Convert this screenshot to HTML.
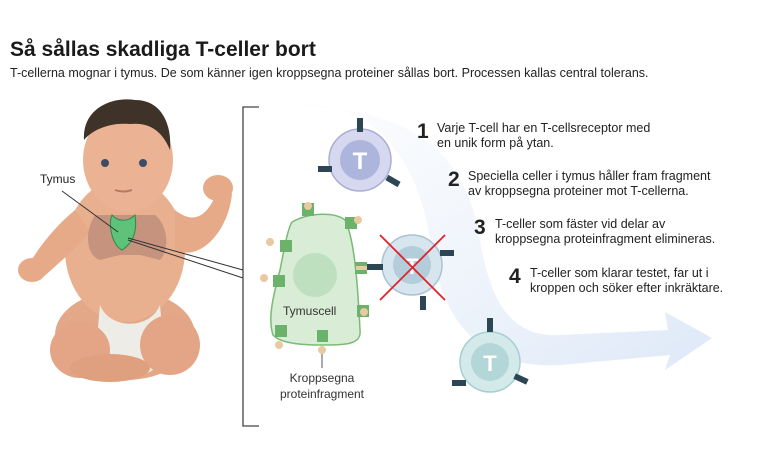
<!DOCTYPE html>
<html><head><meta charset="utf-8"><style>
body{margin:0;background:#fff;width:760px;height:456px;overflow:hidden;font-family:"Liberation Sans",sans-serif}
</style></head><body>
<svg width="760" height="456" viewBox="0 0 760 456" xmlns="http://www.w3.org/2000/svg" font-family="Liberation Sans, sans-serif">
<defs>
<linearGradient id="ag" x1="0" y1="0" x2="1" y2="1">
<stop offset="0" stop-color="#f2f6fc" stop-opacity="0.3"/><stop offset="1" stop-color="#dde8f7"/></linearGradient>
</defs>
<text x="10" y="56" font-size="21" font-weight="bold" fill="#1a1a1a">Så sållas skadliga T-celler bort</text>
<text x="10" y="77" font-size="12.5" fill="#222">T-cellerna mognar i tymus. De som känner igen kroppsegna proteiner sållas bort. Processen kallas central tolerans.</text>

<path d="M300,105 C380,100 420,170 430,240 C440,320 480,370 560,365 L670,355 L665,370 L712,338 L665,312 L668,330 L560,335 C510,338 490,300 480,240 C468,160 420,110 300,105 Z" fill="url(#ag)"/>

<!-- baby -->
<g>
<ellipse cx="125" cy="335" rx="70" ry="45" fill="#e3a888"/>
<ellipse cx="125" cy="250" rx="60" ry="72" fill="#e9b08f"/>
<path d="M75,210 C45,235 32,260 25,270 L40,280 C60,262 80,245 90,232 Z" fill="#e6aa88"/>
<path d="M175,210 C200,230 212,205 218,190 L232,194 C228,232 200,262 175,250 Z" fill="#e6aa88"/>
<ellipse cx="218" cy="188" rx="15" ry="13" fill="#e6aa88"/>
<ellipse cx="32" cy="270" rx="14" ry="12" fill="#e6aa88"/>
<path d="M100,305 C110,330 150,330 160,305 L165,360 C140,385 110,385 95,360 Z" fill="#eeece6"/>
<ellipse cx="80" cy="350" rx="30" ry="28" fill="#e3a585"/>
<ellipse cx="170" cy="345" rx="30" ry="30" fill="#e3a585"/>
<ellipse cx="110" cy="368" rx="40" ry="14" fill="#dfa080"/>
<ellipse cx="128" cy="160" rx="45" ry="52" fill="#ebb393"/>
<path d="M84,140 C82,110 110,96 135,100 C162,100 172,125 170,150 C162,130 148,122 130,124 C110,122 92,130 84,140 Z" fill="#3f3228"/>
<circle cx="105" cy="163" r="4" fill="#3e4a66"/><circle cx="143" cy="163" r="4" fill="#3e4a66"/>
<path d="M115,190 Q123,193 132,190" stroke="#b77a66" stroke-width="2" fill="none"/>
<path d="M95,215 C85,230 85,255 100,260 L120,255 L140,255 L160,260 C170,250 168,225 155,215 Z" fill="#b98a78" opacity="0.75"/>
<path d="M112,215 C108,225 112,245 122,250 C130,245 138,235 135,215 C128,222 118,222 112,215 Z" fill="#5ec27a" stroke="#2f8a49" stroke-width="1"/>
</g>
<text x="40" y="183" font-size="12" fill="#222">Tymus</text>
<line x1="62" y1="191" x2="118" y2="232" stroke="#333" stroke-width="1"/>
<line x1="128" y1="238" x2="243" y2="270" stroke="#333" stroke-width="1"/>
<line x1="128" y1="240" x2="243" y2="278" stroke="#333" stroke-width="1"/>

<path d="M259,107 H243 V426 H259" stroke="#444" stroke-width="1.3" fill="none"/>

<path d="M292,222 C310,212 335,212 345,220 C355,240 358,290 360,330 C362,345 345,345 320,345 C300,345 280,343 273,335 C268,320 272,300 280,270 C285,245 288,228 292,222 Z" fill="#d9ecd6" stroke="#79bb74" stroke-width="1.5"/>
<circle cx="315" cy="275" r="22" fill="#bfe0bf"/>
<text x="283" y="315" font-size="12" fill="#333">Tymuscell</text>
<g fill="#6bb36a">
<rect x="302" y="203" width="12" height="13"/><rect x="345" y="217" width="12" height="12"/>
<rect x="280" y="240" width="12" height="12"/><rect x="273" y="275" width="12" height="12"/>
<rect x="355" y="262" width="12" height="12"/><rect x="357" y="305" width="12" height="12"/>
<rect x="275" y="325" width="12" height="12"/><rect x="317" y="330" width="11" height="12"/>
</g>
<g fill="#e9c9a1">
<circle cx="308" cy="206" r="4"/><circle cx="358" cy="220" r="4"/><circle cx="270" cy="242" r="4"/>
<circle cx="264" cy="278" r="4"/><circle cx="364" cy="312" r="4"/><circle cx="279" cy="345" r="4"/>
<circle cx="322" cy="350" r="4"/><rect x="356" y="266" width="12" height="4"/>
</g>
<line x1="322" y1="354" x2="322" y2="368" stroke="#555" stroke-width="1"/>
<text x="322" y="382" font-size="12" fill="#333" text-anchor="middle">Kroppsegna</text>
<text x="322" y="398" font-size="12" fill="#333" text-anchor="middle">proteinfragment</text>

<circle cx="360" cy="160" r="31" fill="#d5d8ee" stroke="#a9aed4" stroke-width="1.5"/>
<circle cx="360" cy="160" r="20" fill="#adb5dd"/>
<text x="360" y="169" font-size="24" font-weight="bold" fill="#fff" text-anchor="middle">T</text>
<g fill="#2c4753">
<rect x="357" y="118" width="6" height="14"/><rect x="318" y="166" width="14" height="6"/><rect x="386" y="178" width="14" height="6" transform="rotate(30 393 181)"/>
</g>
<circle cx="412" cy="265" r="30" fill="#d7e5ef" stroke="#a9c3d4" stroke-width="1.5"/>
<circle cx="412" cy="265" r="19" fill="#b3cddb"/>
<text x="412" y="274" font-size="22" font-weight="bold" fill="#fff" text-anchor="middle">T</text>
<g fill="#2c4753">
<rect x="367" y="264" width="16" height="6"/><rect x="440" y="250" width="14" height="6"/><rect x="420" y="296" width="6" height="14"/>
</g>
<line x1="380" y1="235" x2="445" y2="300" stroke="#e0222a" stroke-width="1.8"/>
<line x1="445" y1="235" x2="380" y2="300" stroke="#e0222a" stroke-width="1.8"/>
<circle cx="490" cy="362" r="30" fill="#d3e9ea" stroke="#a5cfd2" stroke-width="1.5"/>
<circle cx="490" cy="362" r="19" fill="#b3d6d9"/>
<text x="490" y="371" font-size="22" font-weight="bold" fill="#fff" text-anchor="middle">T</text>
<g fill="#2c4753">
<rect x="487" y="318" width="6" height="14"/><rect x="452" y="380" width="14" height="6"/><rect x="514" y="376" width="14" height="6" transform="rotate(25 521 379)"/>
</g>

<g font-size="12.5" fill="#222">
<text x="417" y="138" font-size="21" font-weight="bold">1</text>
<text x="437" y="132">Varje T-cell har en T-cellsreceptor med</text>
<text x="437" y="147">en unik form på ytan.</text>
<text x="448" y="186" font-size="21" font-weight="bold">2</text>
<text x="468" y="180">Speciella celler i tymus håller fram fragment</text>
<text x="468" y="195">av kroppsegna proteiner mot T-cellerna.</text>
<text x="474" y="234" font-size="21" font-weight="bold">3</text>
<text x="495" y="228">T-celler som fäster vid delar av</text>
<text x="495" y="243">kroppsegna proteinfragment elimineras.</text>
<text x="509" y="283" font-size="21" font-weight="bold">4</text>
<text x="530" y="277">T-celler som klarar testet, far ut i</text>
<text x="530" y="292">kroppen och söker efter inkräktare.</text>
</g>
</svg>
</body></html>
